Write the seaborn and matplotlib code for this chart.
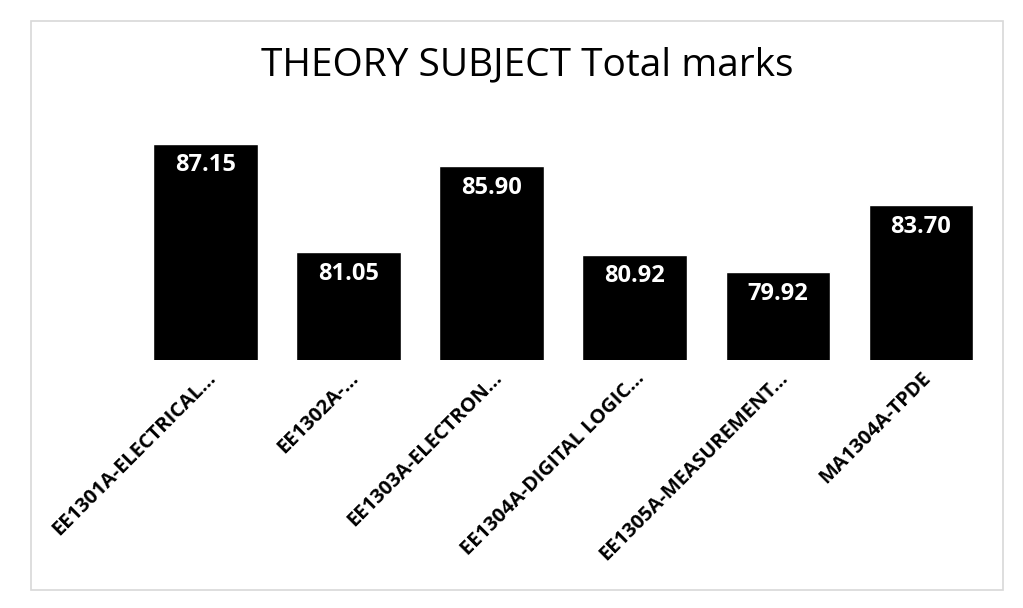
import matplotlib
matplotlib.use("Agg")
import matplotlib.pyplot as plt
import seaborn as sns
import pandas as pd
from matplotlib.patches import Rectangle

categories = ["EE1301A-ELECTRICAL...", "EE1302A-...", "EE1303A-ELECTRON...",
              "EE1304A-DIGITAL LOGIC...", "EE1305A-MEASUREMENT...", "MA1304A-TPDE"]
values = [87.15, 81.05, 85.90, 80.92, 79.92, 83.70]
title = "THEORY SUBJECT Total marks"

df = pd.DataFrame({"subject": categories, "marks": values})

sns.set_theme(style="white")
plt.rcParams['font.family'] = ['Open Sans', 'DejaVu Sans']

fig = plt.figure(figsize=(10.23, 6.08), dpi=100)
fig.patch.set_facecolor("white")
fig.patches.append(Rectangle((0.03, 0.03), 0.95, 0.935, transform=fig.transFigure,
                             fill=False, edgecolor="#d8d8d8", linewidth=1.2))

ax = fig.add_axes([0.131, 0.408, 0.839, 0.41])
sns.barplot(data=df, x="subject", y="marks", color="black", width=0.73,
            saturation=1, ax=ax)
ax.set_ylim(75, 89)
ax.set_xlim(-0.5, len(categories) - 0.5)
for i, v in enumerate(values):
    ax.text(i, v - 0.55, f"{v:.2f}", ha="center", va="top", color="white",
            fontsize=17, fontweight="bold")
for s in ax.spines.values():
    s.set_visible(False)
ax.set_yticks([])
ax.set_xlabel("")
ax.set_ylabel("")
ax.tick_params(axis="x", length=0, pad=6)
plt.setp(ax.get_xticklabels(), rotation=45, ha="right", rotation_mode="anchor",
         fontsize=14.5, fontweight="bold", color="black")
fig.text(0.515, 0.893, title, ha="center", va="center", fontsize=28, color="black")

fig.savefig("out.png", dpi=100, facecolor="white")
